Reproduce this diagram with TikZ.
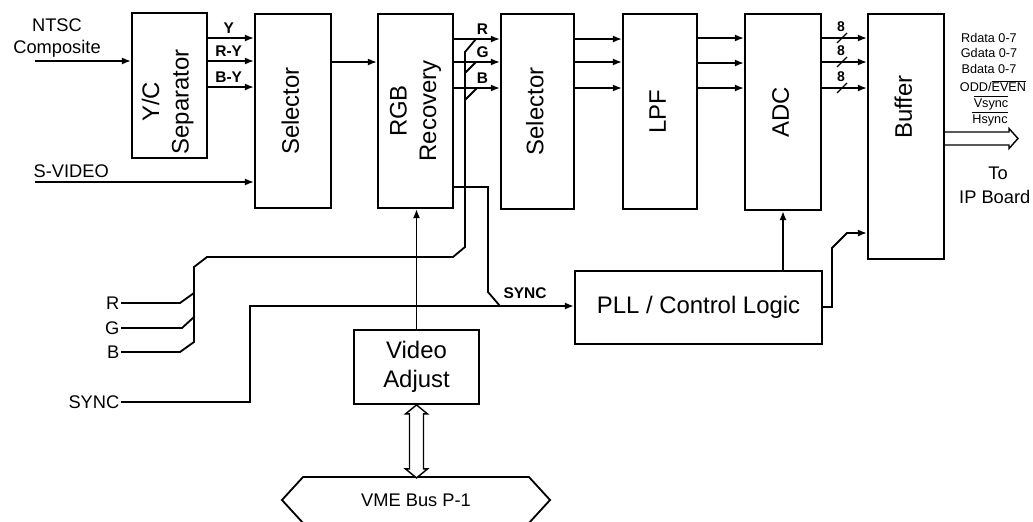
\documentclass[tikz,border=0pt]{standalone}
\usepackage{fontspec}
\setmainfont{Liberation Sans}
\usepackage{graphicx}
\usetikzlibrary{arrows.meta, positioning, calc, shapes.symbols}

\newcommand{\turned}[1]{\rotatebox{90}{\begin{tabular}{@{}c@{}}#1\end{tabular}}}

\begin{document}
\begin{tikzpicture}[x=0.025cm, y=-0.025cm,
  blk/.style={draw, line width=1.3pt, inner sep=0pt},
  big/.style={inner sep=0pt, font=\fontsize{17}{21}\selectfont},
  txt/.style={inner sep=1pt, font=\fontsize{13}{15.6}\selectfont},
  tag/.style={inner sep=1pt, font=\bfseries\fontsize{11}{13}\selectfont},
  tiny/.style={inner sep=0pt, font=\fontsize{9}{10.5}\selectfont},
  wire/.style={line width=1.3pt},
  sig/.style={wire, -{Latex[length=6.5pt,width=5pt]}}]
  \path[use as bounding box, fill=white] (0,0) rectangle (1033,521);

  % Main boxes
  \node[blk, minimum width=1.875cm, minimum height=3.625cm] (yc) at (169.5,85.5) {};
  \node[big] (yctxt) at (168,102) {\turned{Y/C\\Separator}};
  \node[blk, big, minimum width=1.9cm, minimum height=4.85cm] (sel1) at (293,111) {\turned{Selector}};
  \node[blk, big, minimum width=1.875cm, minimum height=4.85cm] (rgb) at (415.5,111) {\turned{RGB\\Recovery}};
  \node[blk, big, minimum width=1.825cm, minimum height=4.875cm] (sel2) at (537.5,111.5) {\turned{Selector}};
  \node[blk, big, minimum width=1.85cm, minimum height=4.875cm] (lpf) at (660,111.5) {\turned{LPF}};
  \node[blk, big, minimum width=1.9cm, minimum height=4.9cm] (adc) at (783,112) {\turned{ADC}};
  \node[blk, minimum width=1.9cm, minimum height=6.125cm] (buf) at (906,136.5) {};
  \node[big] (buftxt) at (906,107) {\turned{Buffer}};
  \node[blk, big, minimum width=6.175cm, minimum height=1.825cm] (pll) at (698.5,307.5) {PLL / Control Logic};
  \node[blk, big, align=center, minimum width=3.125cm, minimum height=1.85cm] (vadj) at (416.5,367) {Video\\Adjust};
  \node[blk, signal, signal to=east and west, signal pointer angle=95, minimum width=6.7cm, minimum height=1.15cm, font=\fontsize{13}{15}\selectfont] (vme) at (416,500) {VME Bus P-1};

  % Inputs
  \node[txt, align=center] (ntsc) at (57,38) {NTSC\\Composite};
  \node[txt, anchor=west] (svideo) at (32,171) {S-VIDEO};
  \node[txt, anchor=east] (rin) at (121,303) {R};
  \node[txt, anchor=east] (gin) at (121,328) {G};
  \node[txt, anchor=east] (bin) at (121,352) {B};
  \node[txt, anchor=east] (syncin) at (121,402) {SYNC};
  \coordinate (ntscsrc) at (35,61);
  \coordinate (svsrc) at (35,182);

  % Video path
  \draw[sig] (ntscsrc) -- (ntscsrc -| yc.west);
  \foreach \yy/\cid/\ctext in {38/ylbl/Y, 61/rylbl/R-Y, 87/bylbl/B-Y}
    \draw[sig] (yc.east |- 0,\yy) -- (sel1.west |- 0,\yy) node[tag, pos=0.45, above=1.5pt, name=\cid] {\ctext};
  \draw[sig] (svsrc) -- (svsrc -| sel1.west);
  \draw[sig] (sel1.east |- 0,62) -- (rgb.west |- 0,62);
  \foreach \yy/\cid/\ctext in {39/rlbl/R, 62/glbl/G, 88/blbl/B}
    \draw[sig] (rgb.east |- 0,\yy) -- (sel2.west |- 0,\yy) node[tag, pos=0.62, above=1.5pt, name=\cid] {\ctext};
  \foreach \yy in {39,62,88}
    \draw[sig] (sel2.east |- 0,\yy) -- (lpf.west |- 0,\yy);
  \foreach \yy in {38,63,88}
    \draw[sig] (lpf.east |- 0,\yy) -- (adc.west |- 0,\yy);
  \foreach \yy/\cid in {38/nba,62/nbb,88/nbc} {
    \draw[sig] (adc.east |- 0,\yy) -- (buf.west |- 0,\yy);
    \draw[line width=0.9pt] (837,\yy+5) -- (847,\yy-5);
    \node[tag, font=\bfseries\fontsize{10}{12}\selectfont] (\cid) at (841,\yy-11) {8};
  }

  % External RGB
  \draw[wire] (rin.east) -- (180,303) -- (194,293);
  \draw[wire] (gin.east) -- (182,328) -- (194,317);
  \draw[wire] (bin.east) -- (180,352) -- (194,342) -- (194,267) -- (207,257) -- (453,257) -- (465,247) -- (465,100) -- (477,88);
  \draw[wire] (465,100) -- (465,73) -- (476,62);
  \draw[wire] (465,73) -- (465,52) -- (476,39);

  % Sync
  \draw[sig] (syncin.east) -- (250,402) -- (250,306) -- (pll.west |- 0,306);
  \draw[wire] (rgb.east |- 0,187) -- (488,187) -- (488,292) -- (500,306);
  \node[tag] (synctag) at (525,293) {SYNC};

  % Control
  \draw[sig] (vadj.north) -- (vadj.north |- rgb.south);
  \draw[sig] (adc.south |- pll.north) -- (adc.south);
  \draw[sig] (pll.east |- 0,307) -- (832,307) -- (832,248) -- (847,233) -- (buf.west |- 0,233);
  \draw[line width=1pt, fill=white] (vadj.south) -- ++(11,9) -- ++(-4,0) -- ++(0,55) -- ++(4,0) -- ++(-11,9) -- ++(-11,-9) -- ++(4,0) -- ++(0,-55) -- ++(-4,0) -- cycle;

  % Outputs
  \draw[line width=1pt] (buf.east |- 0,132) -- (1009,132) -- (1009,128.5) -- (1018,138.5) -- (1009,148.5) -- (1009,145) -- (buf.east |- 0,145);
  \node[tiny] (rdata) at (989,38) {Rdata 0-7};
  \node[tiny] (gdata) at (989,53) {Gdata 0-7};
  \node[tiny] (bdata) at (989,69) {Bdata 0-7};
  \node[tiny] (oddeven) at (993,86) {ODD/$\overline{\mbox{EVEN}}$};
  \node[tiny] (vsync) at (991,103) {$\overline{\mbox{Vsync}}$};
  \node[tiny] (hsync) at (990,119) {$\overline{\mbox{Hsync}}$};
  \node[txt] (to) at (998,173) {To};
  \node[txt, anchor=east] (ipb) at (1032,197) {IP Board};
\end{tikzpicture}
\end{document}
